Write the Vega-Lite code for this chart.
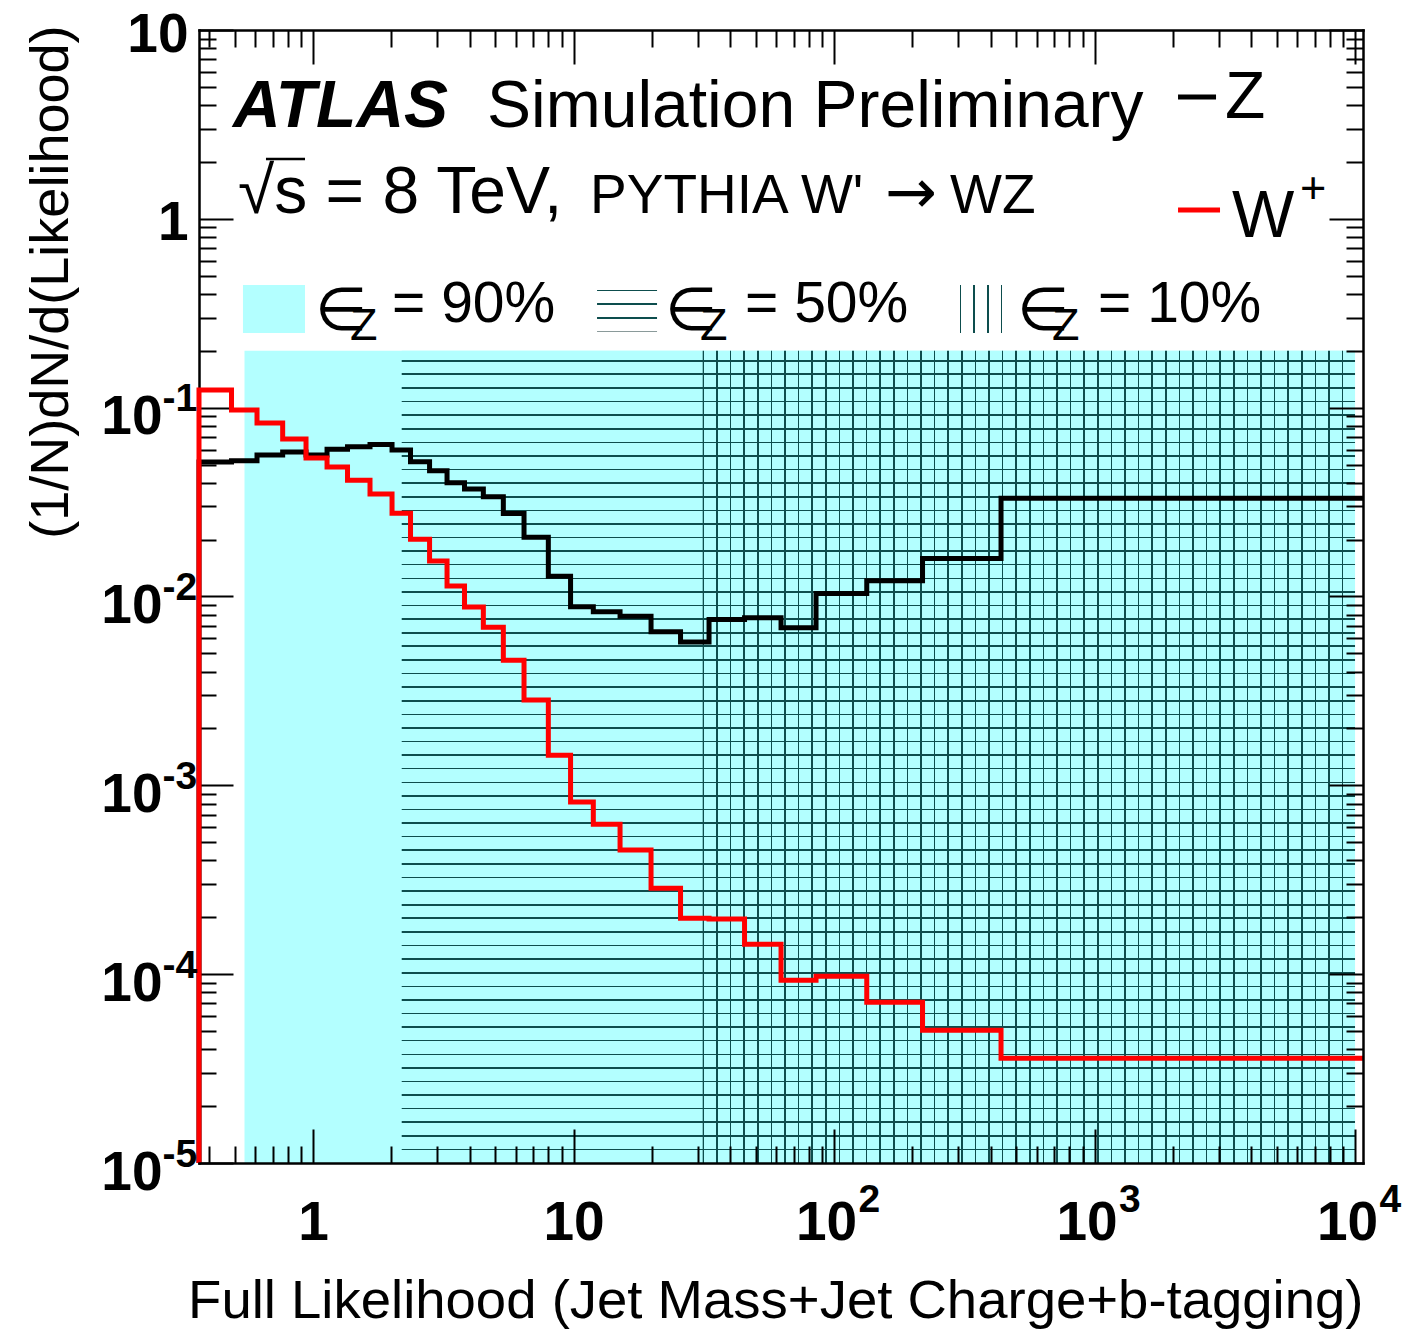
{
"$schema": "https://vega.github.io/schema/vega-lite/v6.json",
"width": 1164,
"height": 1133,
"autosize": {"type": "none"},
"padding": {"left": 199, "top": 30, "right": 56, "bottom": 166},
"background": "white",
"config": {
  "view": {"stroke": null},
  "axis": {"grid": false, "labelFont": "Liberation Sans", "labelFontWeight": "bold", "labelColor": "#000000", "tickColor": "#000000", "tickWidth": 2, "domainColor": "#000000", "domainWidth": 2.5, "domainCap": "square", "titleFont": "Liberation Sans", "titleFontWeight": "normal", "titleColor": "#000000", "labelOverlap": false, "labelFlush": false, "labelBound": false}
},
"datasets": {
  "hist": [
    {"s":"Z","i":0,"x":0.365,"y":0.00001},
    {"s":"Z","i":1,"x":0.365,"y":0.0515},
    {"s":"Z","i":2,"x":0.4865,"y":0.0523},
    {"s":"Z","i":3,"x":0.6095,"y":0.0561},
    {"s":"Z","i":4,"x":0.7647,"y":0.0582},
    {"s":"Z","i":5,"x":0.94,"y":0.0561},
    {"s":"Z","i":6,"x":1.1319,"y":0.0603},
    {"s":"Z","i":7,"x":1.3564,"y":0.0621},
    {"s":"Z","i":8,"x":1.6548,"y":0.0639},
    {"s":"Z","i":9,"x":2.0105,"y":0.0596},
    {"s":"Z","i":10,"x":2.3674,"y":0.0517},
    {"s":"Z","i":11,"x":2.8014,"y":0.0463},
    {"s":"Z","i":12,"x":3.2691,"y":0.04},
    {"s":"Z","i":13,"x":3.8152,"y":0.0371},
    {"s":"Z","i":14,"x":4.5064,"y":0.0337},
    {"s":"Z","i":15,"x":5.3774,"y":0.0275},
    {"s":"Z","i":16,"x":6.4563,"y":0.0206},
    {"s":"Z","i":17,"x":8.0036,"y":0.01282},
    {"s":"Z","i":18,"x":9.7416,"y":0.00882},
    {"s":"Z","i":19,"x":11.912,"y":0.0083},
    {"s":"Z","i":20,"x":15.087,"y":0.00787},
    {"s":"Z","i":21,"x":19.842,"y":0.0065},
    {"s":"Z","i":22,"x":25.751,"y":0.00575},
    {"s":"Z","i":23,"x":33.13,"y":0.00756},
    {"s":"Z","i":24,"x":45.339,"y":0.00771},
    {"s":"Z","i":25,"x":62.603,"y":0.00683},
    {"s":"Z","i":26,"x":85.295,"y":0.01038},
    {"s":"Z","i":27,"x":133.55,"y":0.01211},
    {"s":"Z","i":28,"x":218.66,"y":0.01591},
    {"s":"Z","i":29,"x":437.6,"y":0.0331},
    {"s":"Z","i":30,"x":10730,"y":0.0331},
    {"s":"W","i":0,"x":0.365,"y":0.00001},
    {"s":"W","i":1,"x":0.365,"y":0.1239},
    {"s":"W","i":2,"x":0.4865,"y":0.0971},
    {"s":"W","i":3,"x":0.6095,"y":0.0829},
    {"s":"W","i":4,"x":0.7647,"y":0.0682},
    {"s":"W","i":5,"x":0.94,"y":0.0541},
    {"s":"W","i":6,"x":1.1319,"y":0.0485},
    {"s":"W","i":7,"x":1.3564,"y":0.0413},
    {"s":"W","i":8,"x":1.6548,"y":0.0349},
    {"s":"W","i":9,"x":2.0105,"y":0.0276},
    {"s":"W","i":10,"x":2.3674,"y":0.0201},
    {"s":"W","i":11,"x":2.8014,"y":0.0154},
    {"s":"W","i":12,"x":3.2691,"y":0.01135},
    {"s":"W","i":13,"x":3.8152,"y":0.00879},
    {"s":"W","i":14,"x":4.5064,"y":0.00688},
    {"s":"W","i":15,"x":5.3774,"y":0.0046},
    {"s":"W","i":16,"x":6.4563,"y":0.00283},
    {"s":"W","i":17,"x":8.0036,"y":0.001445},
    {"s":"W","i":18,"x":9.7416,"y":0.000815},
    {"s":"W","i":19,"x":11.912,"y":0.000623},
    {"s":"W","i":20,"x":15.087,"y":0.000454},
    {"s":"W","i":21,"x":19.842,"y":0.000285},
    {"s":"W","i":22,"x":25.751,"y":0.000198},
    {"s":"W","i":23,"x":33.13,"y":0.000196},
    {"s":"W","i":24,"x":45.339,"y":0.000144},
    {"s":"W","i":25,"x":62.603,"y":0.0000929},
    {"s":"W","i":26,"x":85.295,"y":0.0000976},
    {"s":"W","i":27,"x":133.55,"y":0.0000711},
    {"s":"W","i":28,"x":218.66,"y":0.0000505},
    {"s":"W","i":29,"x":437.6,"y":0.0000359},
    {"s":"W","i":30,"x":10730,"y":0.0000359}
  ],
  "regions": [
    {"wp":"90%","lo":0.5457,"hi":10000,"bottom":0.00001,"top":0.2},
    {"wp":"50%","lo":2.19,"hi":10000,"bottom":0.00001,"top":0.2},
    {"wp":"10%","lo":31.32,"hi":10000,"bottom":0.00001,"top":0.2}
  ]
},
"resolve": {"axis": {"x": "independent", "y": "independent"}},
"layer": [
  {
    "layer": [
      {
        "data": {"name": "regions"},
        "transform": [{"filter": "datum.wp == '90%'"}],
        "mark": {"type": "rect", "fill": "#b3ffff"},
        "encoding": {
          "x": {"field": "lo", "type": "quantitative", "scale": {"type": "log", "domain": [0.365, 10730], "nice": false}, "axis": null},
          "x2": {"field": "hi"},
          "y": {"field": "bottom", "type": "quantitative", "scale": {"type": "log", "domain": [0.00001, 10], "nice": false}, "axis": null},
          "y2": {"field": "top"}
        }
      },
      {
        "data": {"name": "regions"},
        "transform": [{"filter": "datum.wp == '50%'"}],
        "mark": {"type": "rect", "fill": {"gradient": "linear", "x1": 0, "y1": 0, "x2": 0, "y2": 1, "stops": [
          {"offset":0,"color":"#b3ffff"},
          {"offset":0.0112,"color":"#b3ffff"},{"offset":0.0112,"color":"#0d4d4d"},{"offset":0.0132,"color":"#0d4d4d"},{"offset":0.0132,"color":"#b3ffff"},
          {"offset":0.0279,"color":"#b3ffff"},{"offset":0.0279,"color":"#0d4d4d"},{"offset":0.0299,"color":"#0d4d4d"},{"offset":0.0299,"color":"#b3ffff"},
          {"offset":0.0447,"color":"#b3ffff"},{"offset":0.0447,"color":"#0d4d4d"},{"offset":0.0466,"color":"#0d4d4d"},{"offset":0.0466,"color":"#b3ffff"},
          {"offset":0.0614,"color":"#b3ffff"},{"offset":0.0614,"color":"#0d4d4d"},{"offset":0.0634,"color":"#0d4d4d"},{"offset":0.0634,"color":"#b3ffff"},
          {"offset":0.0782,"color":"#b3ffff"},{"offset":0.0782,"color":"#0d4d4d"},{"offset":0.0801,"color":"#0d4d4d"},{"offset":0.0801,"color":"#b3ffff"},
          {"offset":0.0949,"color":"#b3ffff"},{"offset":0.0949,"color":"#0d4d4d"},{"offset":0.0969,"color":"#0d4d4d"},{"offset":0.0969,"color":"#b3ffff"},
          {"offset":0.1117,"color":"#b3ffff"},{"offset":0.1117,"color":"#0d4d4d"},{"offset":0.1136,"color":"#0d4d4d"},{"offset":0.1136,"color":"#b3ffff"},
          {"offset":0.1284,"color":"#b3ffff"},{"offset":0.1284,"color":"#0d4d4d"},{"offset":0.1304,"color":"#0d4d4d"},{"offset":0.1304,"color":"#b3ffff"},
          {"offset":0.1452,"color":"#b3ffff"},{"offset":0.1452,"color":"#0d4d4d"},{"offset":0.1471,"color":"#0d4d4d"},{"offset":0.1471,"color":"#b3ffff"},
          {"offset":0.1619,"color":"#b3ffff"},{"offset":0.1619,"color":"#0d4d4d"},{"offset":0.1639,"color":"#0d4d4d"},{"offset":0.1639,"color":"#b3ffff"},
          {"offset":0.1786,"color":"#b3ffff"},{"offset":0.1786,"color":"#0d4d4d"},{"offset":0.1806,"color":"#0d4d4d"},{"offset":0.1806,"color":"#b3ffff"},
          {"offset":0.1954,"color":"#b3ffff"},{"offset":0.1954,"color":"#0d4d4d"},{"offset":0.1974,"color":"#0d4d4d"},{"offset":0.1974,"color":"#b3ffff"},
          {"offset":0.2121,"color":"#b3ffff"},{"offset":0.2121,"color":"#0d4d4d"},{"offset":0.2141,"color":"#0d4d4d"},{"offset":0.2141,"color":"#b3ffff"},
          {"offset":0.2289,"color":"#b3ffff"},{"offset":0.2289,"color":"#0d4d4d"},{"offset":0.2309,"color":"#0d4d4d"},{"offset":0.2309,"color":"#b3ffff"},
          {"offset":0.2456,"color":"#b3ffff"},{"offset":0.2456,"color":"#0d4d4d"},{"offset":0.2476,"color":"#0d4d4d"},{"offset":0.2476,"color":"#b3ffff"},
          {"offset":0.2624,"color":"#b3ffff"},{"offset":0.2624,"color":"#0d4d4d"},{"offset":0.2643,"color":"#0d4d4d"},{"offset":0.2643,"color":"#b3ffff"},
          {"offset":0.2791,"color":"#b3ffff"},{"offset":0.2791,"color":"#0d4d4d"},{"offset":0.2811,"color":"#0d4d4d"},{"offset":0.2811,"color":"#b3ffff"},
          {"offset":0.2959,"color":"#b3ffff"},{"offset":0.2959,"color":"#0d4d4d"},{"offset":0.2978,"color":"#0d4d4d"},{"offset":0.2978,"color":"#b3ffff"},
          {"offset":0.3126,"color":"#b3ffff"},{"offset":0.3126,"color":"#0d4d4d"},{"offset":0.3146,"color":"#0d4d4d"},{"offset":0.3146,"color":"#b3ffff"},
          {"offset":0.3293,"color":"#b3ffff"},{"offset":0.3293,"color":"#0d4d4d"},{"offset":0.3313,"color":"#0d4d4d"},{"offset":0.3313,"color":"#b3ffff"},
          {"offset":0.3461,"color":"#b3ffff"},{"offset":0.3461,"color":"#0d4d4d"},{"offset":0.3481,"color":"#0d4d4d"},{"offset":0.3481,"color":"#b3ffff"},
          {"offset":0.3628,"color":"#b3ffff"},{"offset":0.3628,"color":"#0d4d4d"},{"offset":0.3648,"color":"#0d4d4d"},{"offset":0.3648,"color":"#b3ffff"},
          {"offset":0.3796,"color":"#b3ffff"},{"offset":0.3796,"color":"#0d4d4d"},{"offset":0.3816,"color":"#0d4d4d"},{"offset":0.3816,"color":"#b3ffff"},
          {"offset":0.3963,"color":"#b3ffff"},{"offset":0.3963,"color":"#0d4d4d"},{"offset":0.3983,"color":"#0d4d4d"},{"offset":0.3983,"color":"#b3ffff"},
          {"offset":0.4131,"color":"#b3ffff"},{"offset":0.4131,"color":"#0d4d4d"},{"offset":0.4151,"color":"#0d4d4d"},{"offset":0.4151,"color":"#b3ffff"},
          {"offset":0.4298,"color":"#b3ffff"},{"offset":0.4298,"color":"#0d4d4d"},{"offset":0.4318,"color":"#0d4d4d"},{"offset":0.4318,"color":"#b3ffff"},
          {"offset":0.4466,"color":"#b3ffff"},{"offset":0.4466,"color":"#0d4d4d"},{"offset":0.4485,"color":"#0d4d4d"},{"offset":0.4485,"color":"#b3ffff"},
          {"offset":0.4633,"color":"#b3ffff"},{"offset":0.4633,"color":"#0d4d4d"},{"offset":0.4653,"color":"#0d4d4d"},{"offset":0.4653,"color":"#b3ffff"},
          {"offset":0.4801,"color":"#b3ffff"},{"offset":0.4801,"color":"#0d4d4d"},{"offset":0.4820,"color":"#0d4d4d"},{"offset":0.4820,"color":"#b3ffff"},
          {"offset":0.4968,"color":"#b3ffff"},{"offset":0.4968,"color":"#0d4d4d"},{"offset":0.4988,"color":"#0d4d4d"},{"offset":0.4988,"color":"#b3ffff"},
          {"offset":0.5135,"color":"#b3ffff"},{"offset":0.5135,"color":"#0d4d4d"},{"offset":0.5155,"color":"#0d4d4d"},{"offset":0.5155,"color":"#b3ffff"},
          {"offset":0.5303,"color":"#b3ffff"},{"offset":0.5303,"color":"#0d4d4d"},{"offset":0.5323,"color":"#0d4d4d"},{"offset":0.5323,"color":"#b3ffff"},
          {"offset":0.5470,"color":"#b3ffff"},{"offset":0.5470,"color":"#0d4d4d"},{"offset":0.5490,"color":"#0d4d4d"},{"offset":0.5490,"color":"#b3ffff"},
          {"offset":0.5638,"color":"#b3ffff"},{"offset":0.5638,"color":"#0d4d4d"},{"offset":0.5658,"color":"#0d4d4d"},{"offset":0.5658,"color":"#b3ffff"},
          {"offset":0.5805,"color":"#b3ffff"},{"offset":0.5805,"color":"#0d4d4d"},{"offset":0.5825,"color":"#0d4d4d"},{"offset":0.5825,"color":"#b3ffff"},
          {"offset":0.5973,"color":"#b3ffff"},{"offset":0.5973,"color":"#0d4d4d"},{"offset":0.5992,"color":"#0d4d4d"},{"offset":0.5992,"color":"#b3ffff"},
          {"offset":0.6140,"color":"#b3ffff"},{"offset":0.6140,"color":"#0d4d4d"},{"offset":0.6160,"color":"#0d4d4d"},{"offset":0.6160,"color":"#b3ffff"},
          {"offset":0.6308,"color":"#b3ffff"},{"offset":0.6308,"color":"#0d4d4d"},{"offset":0.6327,"color":"#0d4d4d"},{"offset":0.6327,"color":"#b3ffff"},
          {"offset":0.6475,"color":"#b3ffff"},{"offset":0.6475,"color":"#0d4d4d"},{"offset":0.6495,"color":"#0d4d4d"},{"offset":0.6495,"color":"#b3ffff"},
          {"offset":0.6642,"color":"#b3ffff"},{"offset":0.6642,"color":"#0d4d4d"},{"offset":0.6662,"color":"#0d4d4d"},{"offset":0.6662,"color":"#b3ffff"},
          {"offset":0.6810,"color":"#b3ffff"},{"offset":0.6810,"color":"#0d4d4d"},{"offset":0.6830,"color":"#0d4d4d"},{"offset":0.6830,"color":"#b3ffff"},
          {"offset":0.6977,"color":"#b3ffff"},{"offset":0.6977,"color":"#0d4d4d"},{"offset":0.6997,"color":"#0d4d4d"},{"offset":0.6997,"color":"#b3ffff"},
          {"offset":0.7145,"color":"#b3ffff"},{"offset":0.7145,"color":"#0d4d4d"},{"offset":0.7165,"color":"#0d4d4d"},{"offset":0.7165,"color":"#b3ffff"},
          {"offset":0.7312,"color":"#b3ffff"},{"offset":0.7312,"color":"#0d4d4d"},{"offset":0.7332,"color":"#0d4d4d"},{"offset":0.7332,"color":"#b3ffff"},
          {"offset":0.7480,"color":"#b3ffff"},{"offset":0.7480,"color":"#0d4d4d"},{"offset":0.7500,"color":"#0d4d4d"},{"offset":0.7500,"color":"#b3ffff"},
          {"offset":0.7647,"color":"#b3ffff"},{"offset":0.7647,"color":"#0d4d4d"},{"offset":0.7667,"color":"#0d4d4d"},{"offset":0.7667,"color":"#b3ffff"},
          {"offset":0.7815,"color":"#b3ffff"},{"offset":0.7815,"color":"#0d4d4d"},{"offset":0.7834,"color":"#0d4d4d"},{"offset":0.7834,"color":"#b3ffff"},
          {"offset":0.7982,"color":"#b3ffff"},{"offset":0.7982,"color":"#0d4d4d"},{"offset":0.8002,"color":"#0d4d4d"},{"offset":0.8002,"color":"#b3ffff"},
          {"offset":0.8150,"color":"#b3ffff"},{"offset":0.8150,"color":"#0d4d4d"},{"offset":0.8169,"color":"#0d4d4d"},{"offset":0.8169,"color":"#b3ffff"},
          {"offset":0.8317,"color":"#b3ffff"},{"offset":0.8317,"color":"#0d4d4d"},{"offset":0.8337,"color":"#0d4d4d"},{"offset":0.8337,"color":"#b3ffff"},
          {"offset":0.8484,"color":"#b3ffff"},{"offset":0.8484,"color":"#0d4d4d"},{"offset":0.8504,"color":"#0d4d4d"},{"offset":0.8504,"color":"#b3ffff"},
          {"offset":0.8652,"color":"#b3ffff"},{"offset":0.8652,"color":"#0d4d4d"},{"offset":0.8672,"color":"#0d4d4d"},{"offset":0.8672,"color":"#b3ffff"},
          {"offset":0.8819,"color":"#b3ffff"},{"offset":0.8819,"color":"#0d4d4d"},{"offset":0.8839,"color":"#0d4d4d"},{"offset":0.8839,"color":"#b3ffff"},
          {"offset":0.8987,"color":"#b3ffff"},{"offset":0.8987,"color":"#0d4d4d"},{"offset":0.9007,"color":"#0d4d4d"},{"offset":0.9007,"color":"#b3ffff"},
          {"offset":0.9154,"color":"#b3ffff"},{"offset":0.9154,"color":"#0d4d4d"},{"offset":0.9174,"color":"#0d4d4d"},{"offset":0.9174,"color":"#b3ffff"},
          {"offset":0.9322,"color":"#b3ffff"},{"offset":0.9322,"color":"#0d4d4d"},{"offset":0.9341,"color":"#0d4d4d"},{"offset":0.9341,"color":"#b3ffff"},
          {"offset":0.9489,"color":"#b3ffff"},{"offset":0.9489,"color":"#0d4d4d"},{"offset":0.9509,"color":"#0d4d4d"},{"offset":0.9509,"color":"#b3ffff"},
          {"offset":0.9657,"color":"#b3ffff"},{"offset":0.9657,"color":"#0d4d4d"},{"offset":0.9676,"color":"#0d4d4d"},{"offset":0.9676,"color":"#b3ffff"},
          {"offset":0.9824,"color":"#b3ffff"},{"offset":0.9824,"color":"#0d4d4d"},{"offset":0.9844,"color":"#0d4d4d"},{"offset":0.9844,"color":"#b3ffff"},
          {"offset":1,"color":"#b3ffff"}
        ]}},
        "encoding": {
          "x": {"field": "lo", "type": "quantitative", "axis": null},
          "x2": {"field": "hi"},
          "y": {"field": "bottom", "type": "quantitative", "axis": null},
          "y2": {"field": "top"}
        }
      },
      {
        "data": {"name": "regions"},
        "transform": [{"filter": "datum.wp == '10%'"}],
        "mark": {"type": "rect", "fill": {"gradient": "linear", "x1": 0, "y1": 0, "x2": 1, "y2": 0, "stops": [
          {"offset":0,"color":"#0d4d4d"},{"offset":0.0025,"color":"#0d4d4d"},{"offset":0.0025,"color":"rgba(179,255,255,0)"},
          {"offset":0.0208,"color":"rgba(179,255,255,0)"},{"offset":0.0208,"color":"#0d4d4d"},{"offset":0.0233,"color":"#0d4d4d"},{"offset":0.0233,"color":"rgba(179,255,255,0)"},
          {"offset":0.0417,"color":"rgba(179,255,255,0)"},{"offset":0.0417,"color":"#0d4d4d"},{"offset":0.0441,"color":"#0d4d4d"},{"offset":0.0441,"color":"rgba(179,255,255,0)"},
          {"offset":0.0625,"color":"rgba(179,255,255,0)"},{"offset":0.0625,"color":"#0d4d4d"},{"offset":0.0650,"color":"#0d4d4d"},{"offset":0.0650,"color":"rgba(179,255,255,0)"},
          {"offset":0.0834,"color":"rgba(179,255,255,0)"},{"offset":0.0834,"color":"#0d4d4d"},{"offset":0.0858,"color":"#0d4d4d"},{"offset":0.0858,"color":"rgba(179,255,255,0)"},
          {"offset":0.1042,"color":"rgba(179,255,255,0)"},{"offset":0.1042,"color":"#0d4d4d"},{"offset":0.1067,"color":"#0d4d4d"},{"offset":0.1067,"color":"rgba(179,255,255,0)"},
          {"offset":0.1251,"color":"rgba(179,255,255,0)"},{"offset":0.1251,"color":"#0d4d4d"},{"offset":0.1275,"color":"#0d4d4d"},{"offset":0.1275,"color":"rgba(179,255,255,0)"},
          {"offset":0.1459,"color":"rgba(179,255,255,0)"},{"offset":0.1459,"color":"#0d4d4d"},{"offset":0.1484,"color":"#0d4d4d"},{"offset":0.1484,"color":"rgba(179,255,255,0)"},
          {"offset":0.1668,"color":"rgba(179,255,255,0)"},{"offset":0.1668,"color":"#0d4d4d"},{"offset":0.1692,"color":"#0d4d4d"},{"offset":0.1692,"color":"rgba(179,255,255,0)"},
          {"offset":0.1876,"color":"rgba(179,255,255,0)"},{"offset":0.1876,"color":"#0d4d4d"},{"offset":0.1901,"color":"#0d4d4d"},{"offset":0.1901,"color":"rgba(179,255,255,0)"},
          {"offset":0.2085,"color":"rgba(179,255,255,0)"},{"offset":0.2085,"color":"#0d4d4d"},{"offset":0.2109,"color":"#0d4d4d"},{"offset":0.2109,"color":"rgba(179,255,255,0)"},
          {"offset":0.2293,"color":"rgba(179,255,255,0)"},{"offset":0.2293,"color":"#0d4d4d"},{"offset":0.2318,"color":"#0d4d4d"},{"offset":0.2318,"color":"rgba(179,255,255,0)"},
          {"offset":0.2502,"color":"rgba(179,255,255,0)"},{"offset":0.2502,"color":"#0d4d4d"},{"offset":0.2526,"color":"#0d4d4d"},{"offset":0.2526,"color":"rgba(179,255,255,0)"},
          {"offset":0.2710,"color":"rgba(179,255,255,0)"},{"offset":0.2710,"color":"#0d4d4d"},{"offset":0.2735,"color":"#0d4d4d"},{"offset":0.2735,"color":"rgba(179,255,255,0)"},
          {"offset":0.2918,"color":"rgba(179,255,255,0)"},{"offset":0.2918,"color":"#0d4d4d"},{"offset":0.2943,"color":"#0d4d4d"},{"offset":0.2943,"color":"rgba(179,255,255,0)"},
          {"offset":0.3127,"color":"rgba(179,255,255,0)"},{"offset":0.3127,"color":"#0d4d4d"},{"offset":0.3151,"color":"#0d4d4d"},{"offset":0.3151,"color":"rgba(179,255,255,0)"},
          {"offset":0.3335,"color":"rgba(179,255,255,0)"},{"offset":0.3335,"color":"#0d4d4d"},{"offset":0.3360,"color":"#0d4d4d"},{"offset":0.3360,"color":"rgba(179,255,255,0)"},
          {"offset":0.3544,"color":"rgba(179,255,255,0)"},{"offset":0.3544,"color":"#0d4d4d"},{"offset":0.3568,"color":"#0d4d4d"},{"offset":0.3568,"color":"rgba(179,255,255,0)"},
          {"offset":0.3752,"color":"rgba(179,255,255,0)"},{"offset":0.3752,"color":"#0d4d4d"},{"offset":0.3777,"color":"#0d4d4d"},{"offset":0.3777,"color":"rgba(179,255,255,0)"},
          {"offset":0.3961,"color":"rgba(179,255,255,0)"},{"offset":0.3961,"color":"#0d4d4d"},{"offset":0.3985,"color":"#0d4d4d"},{"offset":0.3985,"color":"rgba(179,255,255,0)"},
          {"offset":0.4169,"color":"rgba(179,255,255,0)"},{"offset":0.4169,"color":"#0d4d4d"},{"offset":0.4194,"color":"#0d4d4d"},{"offset":0.4194,"color":"rgba(179,255,255,0)"},
          {"offset":0.4378,"color":"rgba(179,255,255,0)"},{"offset":0.4378,"color":"#0d4d4d"},{"offset":0.4402,"color":"#0d4d4d"},{"offset":0.4402,"color":"rgba(179,255,255,0)"},
          {"offset":0.4586,"color":"rgba(179,255,255,0)"},{"offset":0.4586,"color":"#0d4d4d"},{"offset":0.4611,"color":"#0d4d4d"},{"offset":0.4611,"color":"rgba(179,255,255,0)"},
          {"offset":0.4795,"color":"rgba(179,255,255,0)"},{"offset":0.4795,"color":"#0d4d4d"},{"offset":0.4819,"color":"#0d4d4d"},{"offset":0.4819,"color":"rgba(179,255,255,0)"},
          {"offset":0.5003,"color":"rgba(179,255,255,0)"},{"offset":0.5003,"color":"#0d4d4d"},{"offset":0.5028,"color":"#0d4d4d"},{"offset":0.5028,"color":"rgba(179,255,255,0)"},
          {"offset":0.5212,"color":"rgba(179,255,255,0)"},{"offset":0.5212,"color":"#0d4d4d"},{"offset":0.5236,"color":"#0d4d4d"},{"offset":0.5236,"color":"rgba(179,255,255,0)"},
          {"offset":0.5420,"color":"rgba(179,255,255,0)"},{"offset":0.5420,"color":"#0d4d4d"},{"offset":0.5444,"color":"#0d4d4d"},{"offset":0.5444,"color":"rgba(179,255,255,0)"},
          {"offset":0.5628,"color":"rgba(179,255,255,0)"},{"offset":0.5628,"color":"#0d4d4d"},{"offset":0.5653,"color":"#0d4d4d"},{"offset":0.5653,"color":"rgba(179,255,255,0)"},
          {"offset":0.5837,"color":"rgba(179,255,255,0)"},{"offset":0.5837,"color":"#0d4d4d"},{"offset":0.5861,"color":"#0d4d4d"},{"offset":0.5861,"color":"rgba(179,255,255,0)"},
          {"offset":0.6045,"color":"rgba(179,255,255,0)"},{"offset":0.6045,"color":"#0d4d4d"},{"offset":0.6070,"color":"#0d4d4d"},{"offset":0.6070,"color":"rgba(179,255,255,0)"},
          {"offset":0.6254,"color":"rgba(179,255,255,0)"},{"offset":0.6254,"color":"#0d4d4d"},{"offset":0.6278,"color":"#0d4d4d"},{"offset":0.6278,"color":"rgba(179,255,255,0)"},
          {"offset":0.6462,"color":"rgba(179,255,255,0)"},{"offset":0.6462,"color":"#0d4d4d"},{"offset":0.6487,"color":"#0d4d4d"},{"offset":0.6487,"color":"rgba(179,255,255,0)"},
          {"offset":0.6671,"color":"rgba(179,255,255,0)"},{"offset":0.6671,"color":"#0d4d4d"},{"offset":0.6695,"color":"#0d4d4d"},{"offset":0.6695,"color":"rgba(179,255,255,0)"},
          {"offset":0.6879,"color":"rgba(179,255,255,0)"},{"offset":0.6879,"color":"#0d4d4d"},{"offset":0.6904,"color":"#0d4d4d"},{"offset":0.6904,"color":"rgba(179,255,255,0)"},
          {"offset":0.7088,"color":"rgba(179,255,255,0)"},{"offset":0.7088,"color":"#0d4d4d"},{"offset":0.7112,"color":"#0d4d4d"},{"offset":0.7112,"color":"rgba(179,255,255,0)"},
          {"offset":0.7296,"color":"rgba(179,255,255,0)"},{"offset":0.7296,"color":"#0d4d4d"},{"offset":0.7321,"color":"#0d4d4d"},{"offset":0.7321,"color":"rgba(179,255,255,0)"},
          {"offset":0.7505,"color":"rgba(179,255,255,0)"},{"offset":0.7505,"color":"#0d4d4d"},{"offset":0.7529,"color":"#0d4d4d"},{"offset":0.7529,"color":"rgba(179,255,255,0)"},
          {"offset":0.7713,"color":"rgba(179,255,255,0)"},{"offset":0.7713,"color":"#0d4d4d"},{"offset":0.7738,"color":"#0d4d4d"},{"offset":0.7738,"color":"rgba(179,255,255,0)"},
          {"offset":0.7921,"color":"rgba(179,255,255,0)"},{"offset":0.7921,"color":"#0d4d4d"},{"offset":0.7946,"color":"#0d4d4d"},{"offset":0.7946,"color":"rgba(179,255,255,0)"},
          {"offset":0.8130,"color":"rgba(179,255,255,0)"},{"offset":0.8130,"color":"#0d4d4d"},{"offset":0.8154,"color":"#0d4d4d"},{"offset":0.8154,"color":"rgba(179,255,255,0)"},
          {"offset":0.8338,"color":"rgba(179,255,255,0)"},{"offset":0.8338,"color":"#0d4d4d"},{"offset":0.8363,"color":"#0d4d4d"},{"offset":0.8363,"color":"rgba(179,255,255,0)"},
          {"offset":0.8547,"color":"rgba(179,255,255,0)"},{"offset":0.8547,"color":"#0d4d4d"},{"offset":0.8571,"color":"#0d4d4d"},{"offset":0.8571,"color":"rgba(179,255,255,0)"},
          {"offset":0.8755,"color":"rgba(179,255,255,0)"},{"offset":0.8755,"color":"#0d4d4d"},{"offset":0.8780,"color":"#0d4d4d"},{"offset":0.8780,"color":"rgba(179,255,255,0)"},
          {"offset":0.8964,"color":"rgba(179,255,255,0)"},{"offset":0.8964,"color":"#0d4d4d"},{"offset":0.8988,"color":"#0d4d4d"},{"offset":0.8988,"color":"rgba(179,255,255,0)"},
          {"offset":0.9172,"color":"rgba(179,255,255,0)"},{"offset":0.9172,"color":"#0d4d4d"},{"offset":0.9197,"color":"#0d4d4d"},{"offset":0.9197,"color":"rgba(179,255,255,0)"},
          {"offset":0.9381,"color":"rgba(179,255,255,0)"},{"offset":0.9381,"color":"#0d4d4d"},{"offset":0.9405,"color":"#0d4d4d"},{"offset":0.9405,"color":"rgba(179,255,255,0)"},
          {"offset":0.9589,"color":"rgba(179,255,255,0)"},{"offset":0.9589,"color":"#0d4d4d"},{"offset":0.9614,"color":"#0d4d4d"},{"offset":0.9614,"color":"rgba(179,255,255,0)"},
          {"offset":0.9798,"color":"rgba(179,255,255,0)"},{"offset":0.9798,"color":"#0d4d4d"},{"offset":0.9822,"color":"#0d4d4d"},{"offset":0.9822,"color":"rgba(179,255,255,0)"},
          {"offset":1,"color":"rgba(179,255,255,0)"}
        ]}},
        "encoding": {
          "x": {"field": "lo", "type": "quantitative", "axis": null},
          "x2": {"field": "hi"},
          "y": {"field": "bottom", "type": "quantitative", "axis": null},
          "y2": {"field": "top"}
        }
      },
      {
        "data": {"name": "hist"},
        "transform": [{"filter": "datum.s == 'Z'"}],
        "mark": {"type": "line", "interpolate": "step-after", "color": "#000000", "strokeWidth": 5},
        "encoding": {
          "x": {"field": "x", "type": "quantitative", "axis": null},
          "y": {"field": "y", "type": "quantitative", "axis": null},
          "order": {"field": "i", "type": "quantitative"}
        }
      },
      {
        "data": {"name": "hist"},
        "transform": [{"filter": "datum.s == 'W'"}],
        "mark": {"type": "line", "interpolate": "step-after", "color": "#ff0000", "strokeWidth": 5},
        "encoding": {
          "x": {"field": "x", "type": "quantitative", "axis": null},
          "y": {"field": "y", "type": "quantitative", "axis": null},
          "order": {"field": "i", "type": "quantitative"}
        }
      },
      {
        "data": {"values": [{}]},
        "mark": {"type": "text", "text": "ATLAS", "font": "Liberation Sans", "fontSize": 66, "fontWeight": "bold", "fontStyle": "italic", "align": "left", "baseline": "alphabetic", "color": "#000000"},
        "encoding": {"x": {"datum": 0.493, "type": "quantitative", "axis": null}, "y": {"datum": 3.064, "type": "quantitative", "axis": null}}
      },
      {
        "data": {"values": [{}]},
        "mark": {"type": "text", "text": "Simulation Preliminary", "font": "Liberation Sans", "fontSize": 66, "align": "left", "baseline": "alphabetic", "color": "#000000"},
        "encoding": {"x": {"datum": 4.655, "type": "quantitative", "axis": null}, "y": {"datum": 3.064, "type": "quantitative", "axis": null}}
      },
      {
        "data": {"values": [{}]},
        "mark": {"type": "text", "text": "√s = 8 TeV,", "font": "Liberation Sans", "fontSize": 66, "align": "left", "baseline": "alphabetic", "color": "#000000"},
        "encoding": {"x": {"datum": 0.5154, "type": "quantitative", "axis": null}, "y": {"datum": 1.0737, "type": "quantitative", "axis": null}}
      },
      {
        "data": {"values": [{}]},
        "mark": {"type": "rule", "color": "#000000", "strokeWidth": 2.5},
        "encoding": {"x": {"datum": 0.6598, "type": "quantitative", "axis": null}, "x2": {"datum": 0.9316}, "y": {"datum": 2.074, "type": "quantitative", "axis": null}}
      },
      {
        "data": {"values": [{}]},
        "mark": {"type": "text", "text": "PYTHIA W'", "font": "Liberation Sans", "fontSize": 55, "align": "left", "baseline": "alphabetic", "color": "#000000"},
        "encoding": {"x": {"datum": 11.57, "type": "quantitative", "axis": null}, "y": {"datum": 1.0737, "type": "quantitative", "axis": null}}
      },
      {
        "data": {"values": [{}]},
        "mark": {"type": "text", "text": "→", "font": "DejaVu Sans", "fontSize": 62, "align": "left", "baseline": "alphabetic", "color": "#000000"},
        "encoding": {"x": {"datum": 156.9, "type": "quantitative", "axis": null}, "y": {"datum": 1.0737, "type": "quantitative", "axis": null}}
      },
      {
        "data": {"values": [{}]},
        "mark": {"type": "text", "text": "WZ", "font": "Liberation Sans", "fontSize": 55, "align": "left", "baseline": "alphabetic", "color": "#000000"},
        "encoding": {"x": {"datum": 278.8, "type": "quantitative", "axis": null}, "y": {"datum": 1.0737, "type": "quantitative", "axis": null}}
      },
      {
        "data": {"values": [{}]},
        "mark": {"type": "rule", "color": "#000000", "strokeWidth": 5},
        "encoding": {"x": {"datum": 2092, "type": "quantitative", "axis": null}, "x2": {"datum": 2927}, "y": {"datum": 4.418, "type": "quantitative", "axis": null}}
      },
      {
        "data": {"values": [{}]},
        "mark": {"type": "text", "text": "Z", "font": "Liberation Sans", "fontSize": 66, "align": "left", "baseline": "alphabetic", "color": "#000000"},
        "encoding": {"x": {"datum": 3169, "type": "quantitative", "axis": null}, "y": {"datum": 3.42, "type": "quantitative", "axis": null}}
      },
      {
        "data": {"values": [{}]},
        "mark": {"type": "rule", "color": "#ff0000", "strokeWidth": 5},
        "encoding": {"x": {"datum": 2092, "type": "quantitative", "axis": null}, "x2": {"datum": 3032}, "y": {"datum": 1.1137, "type": "quantitative", "axis": null}}
      },
      {
        "data": {"values": [{}]},
        "mark": {"type": "text", "text": "W", "font": "Liberation Sans", "fontSize": 66, "align": "left", "baseline": "alphabetic", "color": "#000000"},
        "encoding": {"x": {"datum": 3371, "type": "quantitative", "axis": null}, "y": {"datum": 0.8013, "type": "quantitative", "axis": null}}
      },
      {
        "data": {"values": [{}]},
        "mark": {"type": "text", "text": "+", "font": "Liberation Sans", "fontSize": 45, "align": "left", "baseline": "alphabetic", "color": "#000000"},
        "encoding": {"x": {"datum": 6149, "type": "quantitative", "axis": null}, "y": {"datum": 1.2131, "type": "quantitative", "axis": null}}
      },
      {
        "data": {"values": [{}]},
        "mark": {"type": "rect", "fill": "#b3ffff"},
        "encoding": {"x": {"datum": 0.5384, "type": "quantitative", "axis": null}, "x2": {"datum": 0.9315}, "y": {"datum": 0.4462, "type": "quantitative", "axis": null}, "y2": {"datum": 0.2485}}
      },
      {
        "data": {"values": [{}]},
        "mark": {"type": "rect", "fill": {"gradient": "linear", "x1": 0, "y1": 0, "x2": 0, "y2": 1, "stops": [
          {"offset":0,"color":"rgba(255,255,255,0)"},
          {"offset":0.10,"color":"rgba(255,255,255,0)"},{"offset":0.10,"color":"#0d4d4d"},{"offset":0.133,"color":"#0d4d4d"},{"offset":0.133,"color":"rgba(255,255,255,0)"},
          {"offset":0.383,"color":"rgba(255,255,255,0)"},{"offset":0.383,"color":"#0d4d4d"},{"offset":0.417,"color":"#0d4d4d"},{"offset":0.417,"color":"rgba(255,255,255,0)"},
          {"offset":0.667,"color":"rgba(255,255,255,0)"},{"offset":0.667,"color":"#0d4d4d"},{"offset":0.70,"color":"#0d4d4d"},{"offset":0.70,"color":"rgba(255,255,255,0)"},
          {"offset":0.95,"color":"rgba(255,255,255,0)"},{"offset":0.95,"color":"#8a9a9a"},{"offset":0.983,"color":"#8a9a9a"},{"offset":0.983,"color":"rgba(255,255,255,0)"},
          {"offset":1,"color":"rgba(255,255,255,0)"}
        ]}},
        "encoding": {"x": {"datum": 12.31, "type": "quantitative", "axis": null}, "x2": {"datum": 20.92}, "y": {"datum": 0.4462, "type": "quantitative", "axis": null}, "y2": {"datum": 0.2485}}
      },
      {
        "data": {"values": [{}]},
        "mark": {"type": "rect", "fill": {"gradient": "linear", "x1": 0, "y1": 0, "x2": 1, "y2": 0, "stops": [
          {"offset":0,"color":"rgba(255,255,255,0)"},
          {"offset":0.06,"color":"rgba(255,255,255,0)"},{"offset":0.06,"color":"#0d4d4d"},{"offset":0.093,"color":"#0d4d4d"},{"offset":0.093,"color":"rgba(255,255,255,0)"},
          {"offset":0.343,"color":"rgba(255,255,255,0)"},{"offset":0.343,"color":"#0d4d4d"},{"offset":0.377,"color":"#0d4d4d"},{"offset":0.377,"color":"rgba(255,255,255,0)"},
          {"offset":0.627,"color":"rgba(255,255,255,0)"},{"offset":0.627,"color":"#0d4d4d"},{"offset":0.66,"color":"#0d4d4d"},{"offset":0.66,"color":"rgba(255,255,255,0)"},
          {"offset":0.91,"color":"rgba(255,255,255,0)"},{"offset":0.91,"color":"#0d4d4d"},{"offset":0.943,"color":"#0d4d4d"},{"offset":0.943,"color":"rgba(255,255,255,0)"},
          {"offset":1,"color":"rgba(255,255,255,0)"}
        ]}},
        "encoding": {"x": {"datum": 296.6, "type": "quantitative", "axis": null}, "x2": {"datum": 453.3}, "y": {"datum": 0.4462, "type": "quantitative", "axis": null}, "y2": {"datum": 0.2485}}
      },
      {
        "data": {"values": [{}]},
        "mark": {"type": "text", "text": "∈", "font": "Liberation Sans", "fontSize": 60, "align": "left", "baseline": "alphabetic", "color": "#000000"},
        "encoding": {"x": {"datum": 1.017, "type": "quantitative", "axis": null}, "y": {"datum": 0.2578, "type": "quantitative", "axis": null}}
      },
      {
        "data": {"values": [{}]},
        "mark": {"type": "text", "text": "Z", "font": "Liberation Sans", "fontSize": 45, "align": "left", "baseline": "alphabetic", "color": "#000000"},
        "encoding": {"x": {"datum": 1.3868, "type": "quantitative", "axis": null}, "y": {"datum": 0.2282, "type": "quantitative", "axis": null}}
      },
      {
        "data": {"values": [{}]},
        "mark": {"type": "text", "text": "= 90%", "font": "Liberation Sans", "fontSize": 57, "align": "left", "baseline": "alphabetic", "color": "#000000"},
        "encoding": {"x": {"datum": 2.0102, "type": "quantitative", "axis": null}, "y": {"datum": 0.2842, "type": "quantitative", "axis": null}}
      },
      {
        "data": {"values": [{}]},
        "mark": {"type": "text", "text": "∈", "font": "Liberation Sans", "fontSize": 60, "align": "left", "baseline": "alphabetic", "color": "#000000"},
        "encoding": {"x": {"datum": 22.43, "type": "quantitative", "axis": null}, "y": {"datum": 0.2578, "type": "quantitative", "axis": null}}
      },
      {
        "data": {"values": [{}]},
        "mark": {"type": "text", "text": "Z", "font": "Liberation Sans", "fontSize": 45, "align": "left", "baseline": "alphabetic", "color": "#000000"},
        "encoding": {"x": {"datum": 30.58, "type": "quantitative", "axis": null}, "y": {"datum": 0.2282, "type": "quantitative", "axis": null}}
      },
      {
        "data": {"values": [{}]},
        "mark": {"type": "text", "text": "= 50%", "font": "Liberation Sans", "fontSize": 57, "align": "left", "baseline": "alphabetic", "color": "#000000"},
        "encoding": {"x": {"datum": 45.53, "type": "quantitative", "axis": null}, "y": {"datum": 0.2842, "type": "quantitative", "axis": null}}
      },
      {
        "data": {"values": [{}]},
        "mark": {"type": "text", "text": "∈", "font": "Liberation Sans", "fontSize": 60, "align": "left", "baseline": "alphabetic", "color": "#000000"},
        "encoding": {"x": {"datum": 503.7, "type": "quantitative", "axis": null}, "y": {"datum": 0.2578, "type": "quantitative", "axis": null}}
      },
      {
        "data": {"values": [{}]},
        "mark": {"type": "text", "text": "Z", "font": "Liberation Sans", "fontSize": 45, "align": "left", "baseline": "alphabetic", "color": "#000000"},
        "encoding": {"x": {"datum": 686.6, "type": "quantitative", "axis": null}, "y": {"datum": 0.2282, "type": "quantitative", "axis": null}}
      },
      {
        "data": {"values": [{}]},
        "mark": {"type": "text", "text": "= 10%", "font": "Liberation Sans", "fontSize": 57, "align": "left", "baseline": "alphabetic", "color": "#000000"},
        "encoding": {"x": {"datum": 1031.3, "type": "quantitative", "axis": null}, "y": {"datum": 0.2842, "type": "quantitative", "axis": null}}
      }
    ]
  },
  {
    "data": {"name": "hist"},
    "mark": {"type": "point", "opacity": 0},
    "encoding": {
      "x": {"field": "x", "type": "quantitative",
        "scale": {"type": "log", "domain": [0.365, 10730], "nice": false},
        "axis": {"orient": "bottom",
          "values": [1, 10],
          "labelExpr": "datum.value==1?'1':'10'",
          "tickSize": -34,
          "labelPadding": 67,
          "labelFontSize": 55, "labelAlign": "center", "labelBaseline": "top",
          "domain": true,
          "title": "Full Likelihood (Jet Mass+Jet Charge+b-tagging)",
          "titleFontSize": 54.5, "titleAnchor": "end", "titleAlign": "right", "titleBaseline": "alphabetic",
          "titleX": 1164, "titleY": 154, "zindex": 1}},
      "y": {"field": "y", "type": "quantitative",
        "scale": {"type": "log", "domain": [0.00001, 10], "nice": false},
        "axis": {"orient": "left",
          "values": [1, 10],
          "labelExpr": "datum.value==10?'10':'1'",
          "tickSize": -34,
          "labelPadding": 45,
          "labelOffset": 4,
          "labelFontSize": 55, "labelAlign": "right", "labelBaseline": "middle",
          "domain": true,
          "title": "(1/N)dN/d(Likelihood)",
          "titleFontSize": 54, "titleAngle": 270, "titleAnchor": "end", "titleAlign": "right", "titleBaseline": "alphabetic",
          "titleX": -132, "titleY": -5, "zindex": 0}}
    }
  },
  {
    "data": {"name": "hist"},
    "mark": {"type": "point", "opacity": 0},
    "encoding": {
      "x": {"field": "x", "type": "quantitative",
        "scale": {"type": "log", "domain": [0.365, 10730], "nice": false},
        "axis": {"orient": "bottom",
          "values": [100, 1000, 10000],
          "labelExpr": "'10'",
          "tickSize": -34,
          "labelPadding": 67,
          "labelOffset": -8,
          "labelFontSize": 55, "labelAlign": "center", "labelBaseline": "top",
          "domain": false, "title": null, "zindex": 1}},
      "y": {"field": "y", "type": "quantitative",
        "scale": {"type": "log", "domain": [0.00001, 10], "nice": false},
        "axis": {"orient": "left",
          "values": [0.00001, 0.0001, 0.001, 0.01, 0.1],
          "labelExpr": "'10'",
          "tickSize": -34,
          "labelPadding": 71,
          "labelOffset": 9,
          "labelFontSize": 55, "labelAlign": "right", "labelBaseline": "middle",
          "domain": false, "title": null, "zindex": 0}}
    }
  },
  {
    "data": {"name": "hist"},
    "mark": {"type": "point", "opacity": 0},
    "encoding": {
      "x": {"field": "x", "type": "quantitative",
        "scale": {"type": "log", "domain": [0.365, 10730], "nice": false},
        "axis": {"orient": "bottom", "values": [100, 1000, 10000],
          "labelExpr": "datum.value==100?'2':(datum.value==1000?'3':'4')",
          "ticks": false, "tickSize": 0, "domain": false,
          "labelFontSize": 39, "labelAlign": "left", "labelBaseline": "top",
          "labelOffset": 24, "labelPadding": 17, "title": null, "zindex": 1}},
      "y": {"field": "y", "type": "quantitative",
        "scale": {"type": "log", "domain": [0.00001, 10], "nice": false},
        "axis": {"orient": "left", "values": [0.00001, 0.0001, 0.001, 0.01, 0.1],
          "labelExpr": "datum.value==0.1?'-1':(datum.value==0.01?'-2':(datum.value==0.001?'-3':(datum.value==0.0001?'-4':'-5')))",
          "ticks": false, "tickSize": 0, "domain": false,
          "labelFontSize": 39, "labelAlign": "left", "labelBaseline": "middle",
          "labelOffset": -9, "labelPadding": 37, "title": null, "zindex": 1}}
    }
  },
  {
    "data": {"name": "hist"},
    "mark": {"type": "point", "opacity": 0},
    "encoding": {
      "x": {"field": "x", "type": "quantitative",
        "scale": {"type": "log", "domain": [0.365, 10730], "nice": false},
        "axis": {"orient": "top",
          "values": [0.4,0.5,0.6,0.7,0.8,0.9,1,2,3,4,5,6,7,8,9,10,20,30,40,50,60,70,80,90,100,200,300,400,500,600,700,800,900,1000,2000,3000,4000,5000,6000,7000,8000,9000,10000],
          "labels": false,
          "tickSize": {"condition": {"test": "indexof([1,10,100,1000,10000],datum.value)>=0", "value": -34}, "value": -17},
          "domain": true, "title": null, "zindex": 1}},
      "y": {"field": "y", "type": "quantitative",
        "scale": {"type": "log", "domain": [0.00001, 10], "nice": false},
        "axis": {"orient": "right",
          "values": [0.00001,0.00002,0.00003,0.00004,0.00005,0.00006,0.00007,0.00008,0.00009,0.0001,0.0002,0.0003,0.0004,0.0005,0.0006,0.0007,0.0008,0.0009,0.001,0.002,0.003,0.004,0.005,0.006,0.007,0.008,0.009,0.01,0.02,0.03,0.04,0.05,0.06,0.07,0.08,0.09,0.1,0.2,0.3,0.4,0.5,0.6,0.7,0.8,0.9,1,2,3,4,5,6,7,8,9,10],
          "labels": false,
          "tickSize": {"condition": {"test": "indexof([0.00001,0.0001,0.001,0.01,0.1,1,10],datum.value)>=0", "value": -34}, "value": -17},
          "domain": true, "title": null, "zindex": 1}}
    }
  },
  {
    "data": {"name": "hist"},
    "mark": {"type": "point", "opacity": 0},
    "encoding": {
      "x": {"field": "x", "type": "quantitative",
        "scale": {"type": "log", "domain": [0.365, 10730], "nice": false},
        "axis": {"orient": "bottom",
          "values": [0.4,0.5,0.6,0.7,0.8,0.9,2,3,4,5,6,7,8,9,20,30,40,50,60,70,80,90,200,300,400,500,600,700,800,900,2000,3000,4000,5000,6000,7000,8000,9000],
          "labels": false, "tickSize": -17, "domain": false, "title": null, "zindex": 1}},
      "y": {"field": "y", "type": "quantitative",
        "scale": {"type": "log", "domain": [0.00001, 10], "nice": false},
        "axis": {"orient": "left",
          "values": [0.00002,0.00003,0.00004,0.00005,0.00006,0.00007,0.00008,0.00009,0.0002,0.0003,0.0004,0.0005,0.0006,0.0007,0.0008,0.0009,0.002,0.003,0.004,0.005,0.006,0.007,0.008,0.009,0.02,0.03,0.04,0.05,0.06,0.07,0.08,0.09,0.2,0.3,0.4,0.5,0.6,0.7,0.8,0.9,2,3,4,5,6,7,8,9],
          "labels": false, "tickSize": -17, "domain": false, "title": null, "zindex": 0}}
    }
  }
]
}
